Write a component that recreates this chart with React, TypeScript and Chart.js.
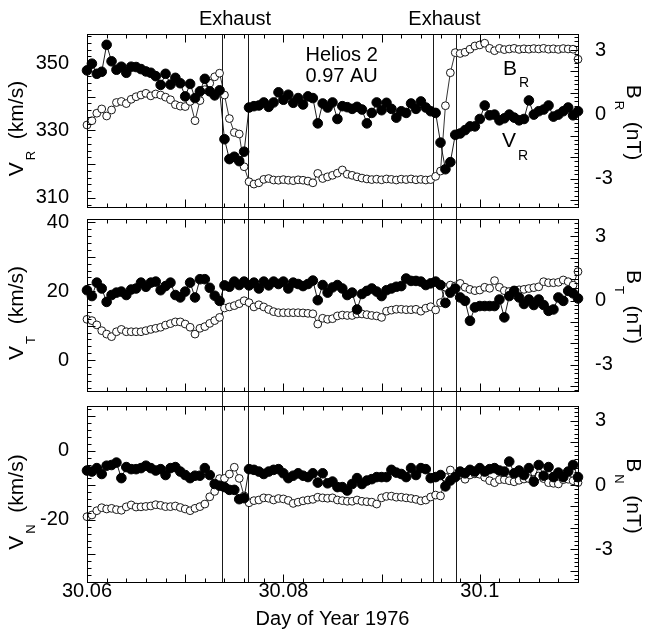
import React, { useEffect, useRef } from 'react';
import { Chart, registerables } from 'chart.js';
Chart.register(...registerables);

const FONT = '"Liberation Sans", Arial, Helvetica, sans-serif';
Chart.defaults.font.family = FONT;
Chart.defaults.color = '#000';

// sample times (day of year 1976)
const times = [
  30.0600, 30.0605, 30.0610, 30.0615, 30.0620, 30.0625, 30.0630, 30.0635, 30.0640, 30.0645,
  30.0650, 30.0655, 30.0660, 30.0665, 30.0670, 30.0675, 30.0680, 30.0685, 30.0690, 30.0695,
  30.0700, 30.0705, 30.0710, 30.0715, 30.0720, 30.0725, 30.0730, 30.0735, 30.0740, 30.0745,
  30.0750, 30.0755, 30.0760, 30.0765, 30.0770, 30.0775, 30.0780, 30.0785, 30.0790, 30.0795,
  30.0800, 30.0805, 30.0810, 30.0815, 30.0820, 30.0825, 30.0830, 30.0835, 30.0840, 30.0845,
  30.0850, 30.0855, 30.0860, 30.0865, 30.0870, 30.0875, 30.0880, 30.0885, 30.0890, 30.0895,
  30.0900, 30.0905, 30.0910, 30.0915, 30.0920, 30.0925, 30.0930, 30.0935, 30.0940, 30.0945,
  30.0950, 30.0955, 30.0960, 30.0965, 30.0970, 30.0975, 30.0980, 30.0985, 30.0990, 30.0995,
  30.1000, 30.1005, 30.1010, 30.1015, 30.1020, 30.1025, 30.1030, 30.1035, 30.1040, 30.1045,
  30.1050, 30.1055, 30.1060, 30.1065, 30.1070, 30.1075, 30.1080, 30.1085, 30.1090, 30.1095,
  30.1100,
];

// V_R (km/s), filled circles
const vR = [
  347.8, 349.8, 346.8, 347.4, 355.4, 350.5, 348.0, 348.9, 347.1, 348.9,
  348.8, 348.2, 347.5, 347.1, 346.1, 343.5, 346.8, 343.6, 345.6, 344.0,
  340.1, 343.8, 339.6, 341.6, 345.3, 341.6, 340.4, 341.9, 327.4, 321.5,
  322.2, 320.9, 323.7, 336.8, 337.2, 337.4, 338.3, 337.0, 338.3, 341.3,
  339.1, 340.6, 338.2, 339.6, 337.7, 340.1, 339.6, 332.1, 338.0, 336.8,
  338.3, 333.4, 337.2, 336.9, 336.4, 337.0, 336.2, 332.1, 335.2, 338.3,
  336.0, 338.2, 336.4, 333.8, 335.7, 335.2, 338.0, 336.4, 338.6, 336.8,
  335.7, 335.2, 326.4, 318.5, 320.6, 328.7, 329.1, 330.1, 331.2, 331.2,
  333.4, 337.4, 334.5, 334.7, 333.0, 333.6, 334.7, 333.8, 333.0, 333.4,
  338.9, 334.7, 335.7, 336.2, 337.4, 334.1, 334.7, 335.7, 336.8, 334.5,
  335.7,
];
// B_R (nT), open circles
const bR = [
  -0.50, -0.30, 0.05, 0.25, -0.08, 0.20, 0.55, 0.60, 0.50, 0.70,
  0.82, 0.90, 0.98, 0.86, 0.95, 0.90, 0.80, 0.68, 0.45, 0.38,
  0.36, 0.60, -0.30, 0.64, 1.15, 1.45, 1.75, 1.92, 0.90, -0.20,
  -0.85, -0.92, -2.45, -3.15, -3.26, -3.20, -3.04, -3.00, -3.07, -3.08,
  -3.05, -3.08, -3.10, -3.06, -3.08, -3.12, -3.20, -2.76, -3.00, -2.92,
  -2.85, -2.75, -2.60, -2.80, -2.85, -2.92, -2.98, -3.02, -3.05, -3.03,
  -3.06, -3.02, -3.04, -3.07, -3.03, -3.05, -3.02, -3.06, -3.04, -3.07,
  -3.05, -2.90, -2.65, 0.40, 1.94, 2.88, 2.84, 2.90, 3.04, 3.19,
  3.24, 3.32, 3.08, 2.97, 3.08, 3.02, 3.05, 3.08, 3.03, 3.06,
  3.04, 3.07, 3.05, 3.08, 3.04, 3.06, 3.03, 3.07, 3.05, 3.04,
  2.57,
];
// V_T (km/s)
const vT = [
  20.3, 18.6, 22.5, 20.8, 16.9, 18.9, 19.6, 19.9, 18.9, 20.5,
  20.8, 22.5, 21.3, 22.5, 22.8, 20.3, 21.5, 22.5, 18.9, 18.2,
  19.9, 22.5, 18.2, 23.5, 23.5, 21.0, 18.7, 17.2, 21.7, 21.3,
  22.8, 21.8, 22.8, 21.7, 22.5, 20.8, 22.8, 21.7, 22.8, 22.1,
  22.8, 20.8, 22.5, 22.1, 21.5, 22.1, 23.1, 17.4, 21.8, 19.6,
  21.1, 21.8, 20.8, 18.9, 19.6, 14.7, 19.2, 20.1, 20.8, 19.9,
  18.6, 20.3, 20.8, 21.3, 21.5, 23.7, 23.0, 23.0, 22.8, 21.8,
  22.3, 22.8, 21.8, 16.6, 19.6, 20.8, 18.2, 17.2, 11.4, 15.3,
  15.7, 15.7, 15.7, 15.7, 17.6, 12.4, 18.6, 20.1, 18.2, 16.3,
  17.6, 16.0, 17.6, 16.0, 14.3, 14.7, 18.2, 17.2, 20.1, 19.4,
  17.9,
];
// B_T (nT)
const bT = [
  -0.88, -0.94, -1.14, -1.41, -1.57, -1.69, -1.46, -1.35, -1.46, -1.46,
  -1.46, -1.46, -1.41, -1.35, -1.30, -1.25, -1.15, -1.08, -1.00, -1.00,
  -1.10, -1.25, -1.57, -1.30, -1.22, -1.07, -0.94, -0.79, -0.35, -0.30,
  -0.24, -0.15, -0.01, -0.10, -0.30, -0.20, -0.30, -0.42, -0.52, -0.57,
  -0.57, -0.57, -0.57, -0.57, -0.58, -0.60, -0.62, -1.10, -0.83, -0.88,
  -0.85, -0.72, -0.68, -0.70, -0.70, -0.63, -0.63, -0.66, -0.70, -0.72,
  -0.79, -0.50, -0.45, -0.41, -0.41, -0.43, -0.43, -0.41, -0.50, -0.36,
  -0.29, -0.44, -0.10, 0.62, 0.72, 0.68, 0.80, 0.62, 0.52, 0.46,
  0.49, 0.62, 0.57, 0.93, 0.62, 0.46, 0.42, 0.47, 0.50, 0.52,
  0.56, 0.60, 0.64, 0.88, 0.83, 0.83, 0.85, 0.96, 0.88, 0.72,
  1.35,
];
// V_N (km/s)
const vN = [
  -5.7, -6.0, -5.0, -6.7, -4.3, -4.1, -3.4, -7.9, -4.7, -5.3,
  -5.3, -5.0, -4.3, -5.0, -5.7, -5.3, -7.0, -5.0, -4.7, -6.0,
  -7.0, -7.9, -7.2, -7.2, -5.0, -7.0, -9.6, -10.1, -10.5, -11.3,
  -11.3, -14.0, -13.7, -5.3, -5.5, -6.0, -6.7, -6.0, -5.5, -5.3,
  -6.5, -7.9, -7.2, -6.5, -7.2, -7.6, -6.5, -9.2, -6.5, -9.4,
  -8.9, -10.5, -10.5, -11.5, -9.6, -7.9, -9.6, -8.6, -8.2, -7.6,
  -7.6, -7.6, -5.5, -6.3, -6.7, -7.6, -5.0, -7.0, -5.0, -5.3,
  -7.9, -7.6, -7.0, -10.3, -8.6, -7.6, -6.0, -6.5, -5.5, -6.0,
  -5.0, -6.0, -5.3, -5.0, -5.7, -6.0, -3.1, -6.5, -5.7, -7.0,
  -5.0, -8.9, -4.1, -7.2, -4.7, -7.6, -6.3, -7.6, -6.0, -4.1,
  -7.6,
];
// B_N (nT)
const bN = [
  -1.48, -1.40, -1.20, -1.06, -1.12, -1.09, -1.15, -1.18, -1.02, -0.93,
  -1.03, -1.02, -1.00, -0.98, -0.92, -0.95, -1.01, -1.01, -0.98, -1.05,
  -1.12, -1.20, -1.09, -1.01, -0.89, -0.55, -0.30, 0.30, 0.31, 0.51,
  0.83, 0.31, -0.51, -0.83, -0.73, -0.70, -0.60, -0.62, -0.70, -0.63,
  -0.65, -0.72, -0.86, -0.80, -0.74, -0.70, -0.67, -0.57, -0.60, -0.62,
  -0.60, -0.70, -0.73, -0.76, -0.76, -0.70, -0.76, -0.78, -0.80, -0.89,
  -0.60, -0.53, -0.52, -0.57, -0.57, -0.60, -0.63, -0.67, -0.74, -0.70,
  -0.56, -0.47, -0.51, 0.36, 0.70, 0.42, 0.47, 0.27, 0.47, 0.52,
  0.50, 0.36, 0.20, 0.11, 0.25, 0.25, 0.20, 0.15, 0.22, 0.28,
  0.30, 0.27, 0.42, 0.30, 0.11, 0.08, 0.05, 0.25, 0.27, 0.20,
  0.11,
];

const xRange = [30.06, 30.11];
const xTickLabels = [30.06, 30.08, 30.1];
const exhaustLines = [30.07372, 30.07643, 30.09526, 30.09755];
const vRTicks = [310, 330, 350];
const vTTicks = [0, 20, 40];
const vNTicks = [-20, 0];
const bTicks = [-3, 0, 3];
const vRRange = [307.3, 358.6];
const vTRange = [-9, 41];
const vNRange = [-38, 13];
const bRRange = [-4.33, 3.75];
const bTRange = [-4.23, 3.81];
const bNRange = [-4.53, 3.69];

function drawSub(ctx: CanvasRenderingContext2D, main: string, sub: string, rest: string,
  x: number, y: number, angle: number, centered: boolean, size: number, subSize: number, drop: number) {
  ctx.save();
  ctx.translate(x, y);
  ctx.rotate(angle);
  ctx.fillStyle = '#000';
  ctx.textAlign = 'left';
  ctx.textBaseline = 'alphabetic';
  ctx.font = `${size}px ${FONT}`;
  const wMain = ctx.measureText(main).width;
  const wRest = rest ? ctx.measureText(rest).width : 0;
  ctx.font = `${subSize}px ${FONT}`;
  const wSub = ctx.measureText(sub).width;
  const gap = 2;
  const total = wMain + gap + wSub + wRest;
  let cx = centered ? -total / 2 : 0;
  const base = centered ? 7 : 0;
  ctx.font = `${size}px ${FONT}`;
  ctx.fillText(main, cx, base);
  cx += wMain + gap;
  ctx.font = `${subSize}px ${FONT}`;
  ctx.fillText(sub, cx, base + drop);
  cx += wSub;
  if (rest) {
    ctx.font = `${size}px ${FONT}`;
    ctx.fillText(rest, cx, base);
  }
  ctx.restore();
}

interface PanelSpec {
  key: string;
  top: number;
  height: number;
  padTop: number;
  padBottom: number;
  v: number[];
  b: number[];
  vRange: number[];
  bRange: number[];
  vTicks: number[];
  sub: string;
  bottomAxis: boolean;
  lineAbove: number;
  lineBelow: number;
  annotate?: (chart: any) => void;
}

function annotateTop(chart: any) {
  const { ctx, scales } = chart;
  const x = scales.x;
  const yL = scales.yL;
  const yR = scales.yR;
  ctx.save();
  ctx.fillStyle = '#000';
  ctx.font = `20px ${FONT}`;
  ctx.textAlign = 'center';
  ctx.textBaseline = 'alphabetic';
  const m1 = x.getPixelForValue((exhaustLines[0] + exhaustLines[1]) / 2);
  const m2 = x.getPixelForValue((exhaustLines[2] + exhaustLines[3]) / 2);
  ctx.fillText('Exhaust', m1, 25);
  ctx.fillText('Exhaust', m2, 25);
  ctx.textAlign = 'left';
  const hx = x.getPixelForValue(30.08225);
  ctx.fillText('Helios 2', hx, 61);
  ctx.fillText('0.97 AU', hx, 82);
  ctx.restore();
  drawSub(ctx, 'B', 'R', '', x.getPixelForValue(30.10236), yR.getPixelForValue(1.84), 0, false, 21, 14, 12);
  drawSub(ctx, 'V', 'R', '', x.getPixelForValue(30.10226), yL.getPixelForValue(325.1), 0, false, 21, 14, 13);
}

function makeDecor(spec: PanelSpec) {
  return {
    id: 'decor_' + spec.key,
    beforeDatasetsDraw(chart: any) {
      const { ctx, chartArea: a, scales } = chart;
      ctx.save();
      ctx.strokeStyle = '#1a1a1a';
      ctx.lineWidth = 1;
      const y0 = a.top - spec.lineAbove;
      const y1 = a.bottom + spec.lineBelow;
      exhaustLines.forEach((t) => {
        const px = Math.round(scales.x.getPixelForValue(t)) + 0.5;
        ctx.beginPath();
        ctx.moveTo(px, y0);
        ctx.lineTo(px, y1);
        ctx.stroke();
      });
      ctx.restore();
    },
    afterDraw(chart: any) {
      const { ctx, chartArea: a, scales } = chart;
      const L = Math.round(a.left) + 0.5;
      const R = Math.round(a.right) + 0.5;
      const T = Math.round(a.top) + 0.5;
      const B = Math.round(a.bottom) + 0.5;
      ctx.save();
      ctx.strokeStyle = '#000';
      ctx.lineWidth = 1;
      ctx.strokeRect(L, T, R - L, B - T);
      ctx.beginPath();
      // x ticks, every 0.002 day, long every 0.01
      for (let k = 0; k <= 25; k++) {
        const px = Math.round(scales.x.getPixelForValue(xRange[0] + k * 0.002)) + 0.5;
        const len = k % 5 === 0 ? 8 : 4;
        ctx.moveTo(px, T); ctx.lineTo(px, T + len);
        ctx.moveTo(px, B); ctx.lineTo(px, B - len);
      }
      // left ticks every 2, long every 10
      const yL = scales.yL;
      for (let v = Math.ceil(spec.vRange[0] / 2) * 2; v <= spec.vRange[1]; v += 2) {
        const py = Math.round(yL.getPixelForValue(v)) + 0.5;
        const len = v % 10 === 0 ? 8 : 4;
        ctx.moveTo(L, py); ctx.lineTo(L + len, py);
      }
      // right ticks every 0.2, long every 1
      const yR = scales.yR;
      for (let k = Math.ceil(spec.bRange[0] * 5); k <= Math.floor(spec.bRange[1] * 5); k++) {
        const py = Math.round(yR.getPixelForValue(k / 5)) + 0.5;
        const len = k % 5 === 0 ? 8 : 4;
        ctx.moveTo(R, py); ctx.lineTo(R - len, py);
      }
      ctx.stroke();
      ctx.restore();
      const cy = (a.top + a.bottom) / 2;
      drawSub(ctx, 'V', spec.sub, '  (km/s)', 16, cy + 8, -Math.PI / 2, true, 21, 13, 12);
      drawSub(ctx, 'B', spec.sub, '  (nT)', 634, cy + 2, Math.PI / 2, true, 21, 13, 12);
      if (spec.annotate) spec.annotate(chart);
    },
  };
}

// chart areas: top 34..207, middle 219..391, bottom 406..582 (page px)
const panels: PanelSpec[] = [
  { key: 'r', top: 0, height: 240, padTop: 34, padBottom: 33, v: vR, b: bR, vRange: vRRange, bRange: bRRange,
    vTicks: vRTicks, sub: 'R', bottomAxis: false, lineAbove: 0, lineBelow: 7, annotate: annotateTop },
  { key: 't', top: 186, height: 238, padTop: 33, padBottom: 33, v: vT, b: bT, vRange: vTRange, bRange: bTRange,
    vTicks: vTTicks, sub: 'T', bottomAxis: false, lineAbove: 6, lineBelow: 8 },
  { key: 'n', top: 373, height: 260, padTop: 33, padBottom: 0, v: vN, b: bN, vRange: vNRange, bRange: bNRange,
    vTicks: vNTicks, sub: 'N', bottomAxis: true, lineAbove: 8, lineBelow: 0 },
];

function Panel({ spec }: { spec: PanelSpec }) {
  const ref = useRef<HTMLCanvasElement | null>(null);
  useEffect(() => {
    if (!ref.current) return;
    const vData = times.map((t, i) => ({ x: t, y: spec.v[i] }));
    const bData = times.map((t, i) => ({ x: t, y: spec.b[i] }));
    const tickFont = { size: 20, family: FONT };
    const chart = new Chart(ref.current, {
      type: 'line',
      data: {
        datasets: [
          {
            label: 'V', data: vData, yAxisID: 'yL', borderColor: '#000', borderWidth: 0.9,
            pointRadius: 4.8, pointBackgroundColor: '#000', pointBorderColor: '#000', pointBorderWidth: 1,
            tension: 0, clip: 8,
          },
          {
            label: 'B', data: bData, yAxisID: 'yR', borderColor: '#000', borderWidth: 0.8,
            pointRadius: 3.9, pointBackgroundColor: '#fff', pointBorderColor: '#000', pointBorderWidth: 0.9,
            tension: 0, clip: 8,
          },
        ],
      } as any,
      options: {
        responsive: false,
        animation: false,
        devicePixelRatio: 1,
        events: [],
        layout: { padding: { left: 0, right: 0, top: spec.padTop, bottom: spec.padBottom } },
        plugins: { legend: { display: false }, tooltip: { enabled: false } },
        scales: {
          x: {
            type: 'linear', min: xRange[0], max: xRange[1], display: spec.bottomAxis, position: 'bottom',
            grid: { display: false, drawTicks: false }, border: { display: false },
            ticks: { padding: -3, font: tickFont, color: '#000', maxRotation: 0, autoSkip: false,
              callback: (v: any) => String(v) },
            afterBuildTicks: (s: any) => { s.ticks = xTickLabels.map((v) => ({ value: v })); },
            afterFit: (s: any) => { s.height = spec.bottomAxis ? 51 : 0; },
            title: { display: true, text: 'Day of Year 1976', font: { size: 20, family: FONT }, color: '#000',
              padding: { top: 0, bottom: 2 } },
          },
          yL: {
            type: 'linear', position: 'left', min: spec.vRange[0], max: spec.vRange[1],
            grid: { display: false, drawTicks: false }, border: { display: false },
            ticks: { padding: 18, font: tickFont, color: '#000', callback: (v: any) => String(v) },
            afterBuildTicks: (s: any) => { s.ticks = spec.vTicks.map((v) => ({ value: v })); },
            afterFit: (s: any) => { s.width = 87; },
          },
          yR: {
            type: 'linear', position: 'right', min: spec.bRange[0], max: spec.bRange[1],
            grid: { display: false, drawTicks: false }, border: { display: false },
            ticks: { padding: 17, font: tickFont, color: '#000', callback: (v: any) => String(v) },
            afterBuildTicks: (s: any) => { s.ticks = bTicks.map((v) => ({ value: v })); },
            afterFit: (s: any) => { s.width = 69; },
          },
        },
      } as any,
      plugins: [makeDecor(spec)],
    });
    return () => chart.destroy();
  }, [spec]);
  return (
    <canvas ref={ref} width={647} height={spec.height}
      style={{ position: 'absolute', left: 0, top: spec.top, width: 647, height: spec.height }} />
  );
}

export default function App() {
  return (
    <div style={{ position: 'absolute', left: 0, top: 0, width: 647, height: 633, background: '#fff', overflow: 'hidden' }}>
      {panels.map((p) => <Panel key={p.key} spec={p} />)}
    </div>
  );
}
